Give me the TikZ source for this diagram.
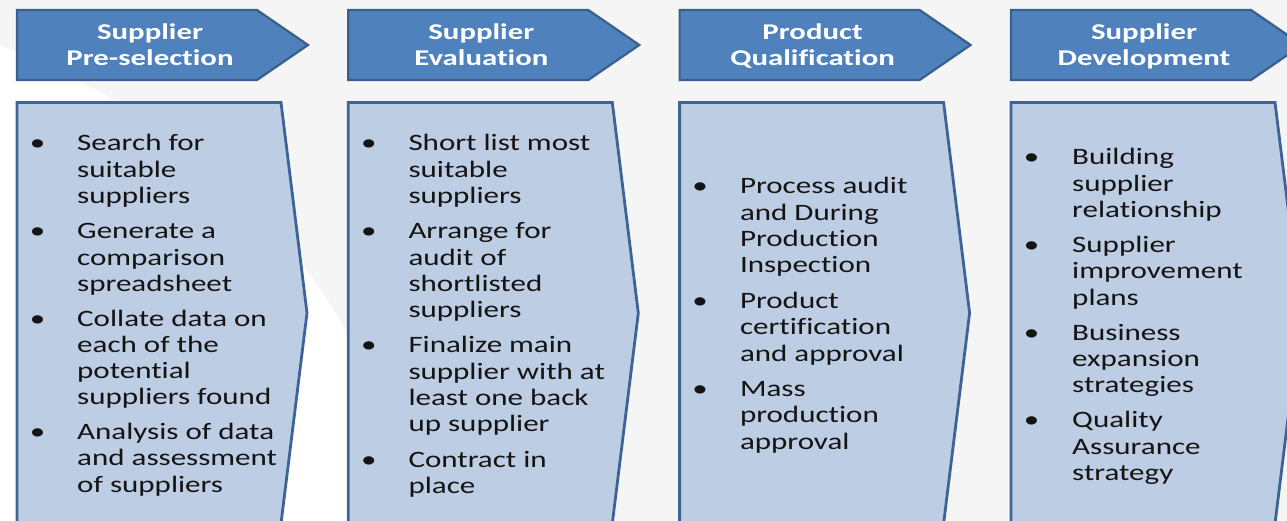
\documentclass[tikz,border=0pt]{standalone}
\usepackage{fontspec}
\setmainfont{Carlito}[FakeStretch=1.32,Ligatures={NoCommon,NoContextual}]
\newfontfamily\headfont{Carlito}[FakeStretch=1.37,Ligatures={NoCommon,NoContextual}]
\definecolor{headfill}{HTML}{4F81BD}
\definecolor{headline}{HTML}{3A5F8C}
\definecolor{boxfill}{HTML}{BDCDE3}
\definecolor{boxline}{HTML}{3E6496}
\definecolor{bggray}{HTML}{F5F5F5}
\definecolor{txt}{HTML}{141414}
\newcommand\bodyfont{\fontsize{23.5}{26.3}\selectfont}
\newcommand\headsize{\headfont\bfseries\fontsize{22.5}{26}\selectfont}
\newcommand\lns[1]{\begin{tabular}[t]{@{}l@{}}#1\end{tabular}}
\newcommand\hlns[1]{\begin{tabular}[t]{@{}c@{}}#1\end{tabular}}
\tikzset{
  headshape/.style={fill=headfill, draw=headline, line width=2.2pt, line join=miter},
  boxshape/.style={fill=boxfill, draw=boxline, line width=2.8pt, line join=miter},
  headtext/.style={anchor=base, inner sep=0pt, text=white, font=\headsize},
  itemtext/.style={anchor=base west, inner sep=0pt, text=txt, font=\bodyfont},
  bullet/.style={anchor=base, inner sep=0pt, text=txt, font=\bodyfont},
}
\begin{document}
\begin{tikzpicture}[x=1pt,y=-1pt]
\useasboundingbox (0,0) rectangle (1287,521);
\clip (0,0) rectangle (1287,521);
% background with soft swoosh
\fill[bggray] (0,0) rectangle (1287,521);
\fill[white] (0,45) .. controls (180,120) and (330,220) .. (430,521) -- (0,521) -- cycle;
% shapes
\foreach \x in {17,348.3,679.6,1011}{
  \draw[headshape] (\x,10) -- (\x+240,10) -- (\x+291,45) -- (\x+240,80) -- (\x,80) -- cycle;
  \draw[boxshape] (\x,102.5) -- (\x+264,102.5) -- (\x+290,313) -- (\x+264,523.5) -- (\x,523.5) -- cycle;
}
% headers
\node[headtext] (h1) at (17+133,39.5) {\hlns{Supplier\\Pre-selection}};
\node[headtext] (h2) at (348.3+133,39.5) {\hlns{Supplier\\Evaluation}};
\node[headtext] (h3) at (679.6+133,39.5) {\hlns{Product\\Qualification}};
\node[headtext] (h4) at (1011+133,39.5) {\hlns{Supplier\\Development}};
% column 1
\node[bullet] (b11) at (37.5,151) {•};
\node[itemtext] (t11) at (77,151) {\lns{Search for\\suitable\\suppliers}};
\node[bullet] (b12) at (37.5,239) {•};
\node[itemtext] (t12) at (77,239) {\lns{Generate a\\comparison\\spreadsheet}};
\node[bullet] (b13) at (37.5,326) {•};
\node[itemtext] (t13) at (77,326) {\lns{Collate data on\\each of the\\potential\\suppliers found}};
\node[bullet] (b14) at (37.5,439.5) {•};
\node[itemtext] (t14) at (77,439.5) {\lns{Analysis of data\\and assessment\\of suppliers}};
% column 2
\node[bullet] (b21) at (368.8,151) {•};
\node[itemtext] (t21) at (408.3,151) {\lns{Short list most\\suitable\\suppliers}};
\node[bullet] (b22) at (368.8,239) {•};
\node[itemtext] (t22) at (408.3,239) {\lns{Arrange for\\audit of\\shortlisted\\suppliers}};
\node[bullet] (b23) at (368.8,352.7) {•};
\node[itemtext] (t23) at (408.3,352.7) {\lns{Finalize main\\supplier with at\\least one back\\up supplier}};
\node[bullet] (b24) at (368.8,467.5) {•};
\node[itemtext] (t24) at (408.3,467.5) {\lns{Contract in\\place}};
% column 3
\node[bullet] (b31) at (700.1,194) {•};
\node[itemtext] (t31) at (739.8,194) {\lns{Process audit\\and During\\Production\\Inspection}};
\node[bullet] (b32) at (700.1,308.5) {•};
\node[itemtext] (t32) at (739.8,308.5) {\lns{Product\\certification\\and approval}};
\node[bullet] (b33) at (700.1,396.5) {•};
\node[itemtext] (t33) at (739.8,396.5) {\lns{Mass\\production\\approval}};
% column 4
\node[bullet] (b41) at (1031.7,164.8) {•};
\node[itemtext] (t41) at (1072,164.8) {\lns{Building\\supplier\\relationship}};
\node[bullet] (b42) at (1031.7,252.6) {•};
\node[itemtext] (t42) at (1072,252.6) {\lns{Supplier\\improvement\\plans}};
\node[bullet] (b43) at (1031.7,340.2) {•};
\node[itemtext] (t43) at (1072,340.2) {\lns{Business\\expansion\\strategies}};
\node[bullet] (b44) at (1031.7,427.8) {•};
\node[itemtext] (t44) at (1072,427.8) {\lns{Quality\\Assurance\\strategy}};
\end{tikzpicture}
\end{document}
